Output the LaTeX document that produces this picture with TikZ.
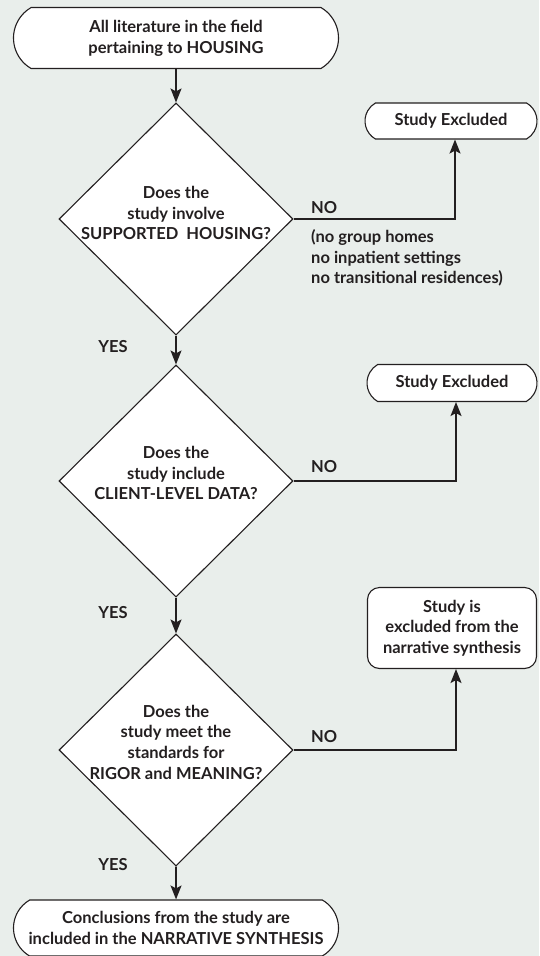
\documentclass[tikz,border=0pt]{standalone}
\usepackage{fontspec}
\setmainfont{Lato}
\usetikzlibrary{shapes.geometric,shapes.misc,arrows.meta}
\definecolor{bgcol}{RGB}{233,238,235}
\definecolor{ink}{RGB}{35,31,32}

\tikzset{
  term/.style={rounded rectangle, rounded rectangle arc length=120, draw=ink, fill=white,
    line width=1.1pt, inner sep=0pt, align=center},
  outbox/.style={rectangle, rounded corners=12pt, draw=ink, fill=white,
    line width=1.1pt, inner sep=0pt, align=center},
  decision/.style={diamond, draw=ink, fill=white, line width=1.1pt, inner sep=0pt,
    minimum width=234pt, minimum height=232pt},
  qtext/.style={inner sep=0pt, align=center},
  lbl/.style={inner sep=0pt, align=left},
  arr/.style={draw=ink, line width=1.7pt, -{Stealth[length=14pt,width=11pt,inset=3pt]}}
}

\begin{document}
\begin{tikzpicture}[x=1pt,y=-1pt,font=\fontsize{16.5}{20.7}\selectfont\bfseries,text=ink]
  \fill[bgcol] (0,0) rectangle (539,956);
  \useasboundingbox (0,0) rectangle (539,956);

  % main column
  \node[term,minimum width=325pt,minimum height=61pt] (top) at (176,38) {All literature in the field\\pertaining to HOUSING};
  \node[decision] (d1) at (176,219) {};
  \node[qtext] (q1) at (176,213) {Does the\\study involve\\SUPPORTED\ \ HOUSING?};
  \node[decision] (d2) at (176,481) {};
  \node[qtext] (q2) at (176,473) {Does the\\study include\\CLIENT-LEVEL DATA?};
  \node[decision] (d3) at (176,750) {};
  \node[qtext] (q3) at (176,742) {Does the\\study meet the\\standards for\\RIGOR and MEANING?};
  \node[term,minimum width=325pt,minimum height=56pt] (concl) at (176,928) {Conclusions from the study are\\included in the NARRATIVE SYNTHESIS};

  % exclusions
  \node[term,minimum width=172pt,minimum height=36pt] (ex1) at (451,121) {Study Excluded};
  \node[term,minimum width=170pt,minimum height=37pt] (ex2) at (452,383) {Study Excluded};
  \node[outbox,minimum width=169pt,minimum height=81pt] (ex3) at (452,628) {Study is\\excluded from the\\narrative synthesis};

  % labels
  \node[lbl,anchor=west] (no1) at (311,208) {NO};
  \node[lbl,anchor=west] (note1) at (311,258) {(no group homes\\no inpatient settings\\no transitional residences)};
  \node[lbl,anchor=west] (no2) at (311,467) {NO};
  \node[lbl,anchor=west] (no3) at (311,737) {NO};
  \node[lbl] (yes1) at (113,347) {YES};
  \node[lbl] (yes2) at (113,613) {YES};
  \node[lbl] (yes3) at (113,865) {YES};

  \draw[arr] (top) -- (d1);
  \draw[arr] (d1) -- (d2);
  \draw[arr] (d2) -- (d3);
  \draw[arr] (d3) -- (concl);
  \draw[arr] (d1.east) -| ([xshift=4pt]ex1.south);
  \draw[arr] (d2.east) -| ([xshift=4pt]ex2.south);
  \draw[arr] (d3.east) -| ([xshift=4pt]ex3.south);
\end{tikzpicture}
\end{document}
